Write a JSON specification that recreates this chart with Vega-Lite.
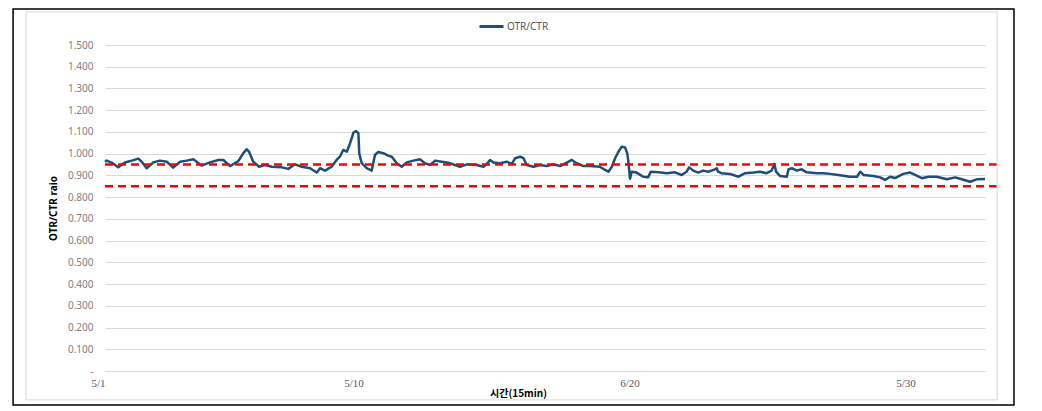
{
  "$schema": "https://vega.github.io/schema/vega-lite/v6.json",
  "width": 880,
  "height": 326,
  "autosize": "none",
  "padding": {"left": 105, "top": 45, "right": 57, "bottom": 40},
  "background": "white",
  "config": {
    "view": {"stroke": null},
    "font": "Noto Sans",
    "axisX": {
      "labelFlush": false, "labelOverlap": false, "grid": false, "ticks": false, "domain": true,
      "domainColor": "#d9d9d9", "domainWidth": 1, "labelPadding": 6, "labelFont": "Liberation Serif",
      "labelFontSize": 11, "labelColor": "#595959", "titleFont": "Noto Sans CJK KR", "titleFontSize": 10,
      "titleFontWeight": "bold", "titleColor": "#000000", "titleX": 413, "titleY": 22,
      "titleAlign": "center", "titleBaseline": "middle"
    },
    "axisY": {
      "labelOverlap": false, "domain": false, "ticks": false, "grid": true, "gridColor": "#d9d9d9",
      "gridWidth": 1, "labelPadding": 12, "labelColor": "#7f7f7f", "labelFontSize": 10,
      "titleFontSize": 10, "titleFontWeight": "bold", "titleColor": "#000000", "titleX": -52,
      "titleY": 163, "titleAngle": -90, "titleAlign": "center", "titleBaseline": "middle"
    }
  },
  "datasets": {
    "ratio": [
      {"day": 0.00, "ratio": 0.963}, {"day": 0.06, "ratio": 0.968}, {"day": 0.24, "ratio": 0.959}, {"day": 0.48, "ratio": 0.937},
      {"day": 0.72, "ratio": 0.959}, {"day": 0.97, "ratio": 0.968}, {"day": 1.21, "ratio": 0.977}, {"day": 1.33, "ratio": 0.963},
      {"day": 1.51, "ratio": 0.933}, {"day": 1.75, "ratio": 0.960}, {"day": 1.99, "ratio": 0.968}, {"day": 2.24, "ratio": 0.963},
      {"day": 2.47, "ratio": 0.936}, {"day": 2.72, "ratio": 0.963}, {"day": 2.96, "ratio": 0.968}, {"day": 3.20, "ratio": 0.974},
      {"day": 3.50, "ratio": 0.945}, {"day": 3.80, "ratio": 0.960}, {"day": 4.11, "ratio": 0.971}, {"day": 4.29, "ratio": 0.971},
      {"day": 4.53, "ratio": 0.943}, {"day": 4.83, "ratio": 0.966}, {"day": 5.01, "ratio": 1.002}, {"day": 5.13, "ratio": 1.020},
      {"day": 5.22, "ratio": 1.009}, {"day": 5.37, "ratio": 0.963}, {"day": 5.58, "ratio": 0.940}, {"day": 5.80, "ratio": 0.948},
      {"day": 6.04, "ratio": 0.940}, {"day": 6.40, "ratio": 0.937}, {"day": 6.64, "ratio": 0.930}, {"day": 6.88, "ratio": 0.951},
      {"day": 7.13, "ratio": 0.940}, {"day": 7.43, "ratio": 0.933}, {"day": 7.67, "ratio": 0.913}, {"day": 7.79, "ratio": 0.933},
      {"day": 7.97, "ratio": 0.922}, {"day": 8.21, "ratio": 0.940}, {"day": 8.39, "ratio": 0.971}, {"day": 8.51, "ratio": 0.986},
      {"day": 8.63, "ratio": 1.017}, {"day": 8.76, "ratio": 1.009}, {"day": 8.88, "ratio": 1.048}, {"day": 9.00, "ratio": 1.097},
      {"day": 9.09, "ratio": 1.104}, {"day": 9.18, "ratio": 1.094}, {"day": 9.21, "ratio": 1.002}, {"day": 9.30, "ratio": 0.956},
      {"day": 9.48, "ratio": 0.933}, {"day": 9.66, "ratio": 0.922}, {"day": 9.78, "ratio": 0.994}, {"day": 9.90, "ratio": 1.008},
      {"day": 10.08, "ratio": 1.002}, {"day": 10.26, "ratio": 0.991}, {"day": 10.39, "ratio": 0.986}, {"day": 10.57, "ratio": 0.956},
      {"day": 10.75, "ratio": 0.940}, {"day": 10.93, "ratio": 0.960}, {"day": 11.17, "ratio": 0.968}, {"day": 11.41, "ratio": 0.974},
      {"day": 11.59, "ratio": 0.956}, {"day": 11.78, "ratio": 0.948}, {"day": 11.96, "ratio": 0.968}, {"day": 12.20, "ratio": 0.963},
      {"day": 12.44, "ratio": 0.958}, {"day": 12.68, "ratio": 0.948}, {"day": 12.86, "ratio": 0.940}, {"day": 13.11, "ratio": 0.951},
      {"day": 13.47, "ratio": 0.948}, {"day": 13.71, "ratio": 0.940}, {"day": 13.83, "ratio": 0.953}, {"day": 13.95, "ratio": 0.971},
      {"day": 14.07, "ratio": 0.959}, {"day": 14.31, "ratio": 0.956}, {"day": 14.55, "ratio": 0.963}, {"day": 14.74, "ratio": 0.953},
      {"day": 14.86, "ratio": 0.979}, {"day": 15.04, "ratio": 0.986}, {"day": 15.16, "ratio": 0.979}, {"day": 15.28, "ratio": 0.948},
      {"day": 15.52, "ratio": 0.940}, {"day": 15.76, "ratio": 0.948}, {"day": 16.00, "ratio": 0.943}, {"day": 16.24, "ratio": 0.951},
      {"day": 16.49, "ratio": 0.943}, {"day": 16.73, "ratio": 0.959}, {"day": 16.91, "ratio": 0.971}, {"day": 17.09, "ratio": 0.956},
      {"day": 17.33, "ratio": 0.943}, {"day": 17.57, "ratio": 0.943}, {"day": 17.93, "ratio": 0.940}, {"day": 18.12, "ratio": 0.925},
      {"day": 18.24, "ratio": 0.917}, {"day": 18.36, "ratio": 0.940}, {"day": 18.48, "ratio": 0.979}, {"day": 18.60, "ratio": 1.009},
      {"day": 18.72, "ratio": 1.032}, {"day": 18.84, "ratio": 1.029}, {"day": 18.92, "ratio": 1.002}, {"day": 18.96, "ratio": 0.963},
      {"day": 19.02, "ratio": 0.885}, {"day": 19.08, "ratio": 0.917}, {"day": 19.26, "ratio": 0.913}, {"day": 19.50, "ratio": 0.894},
      {"day": 19.68, "ratio": 0.892}, {"day": 19.77, "ratio": 0.917}, {"day": 20.05, "ratio": 0.914}, {"day": 20.35, "ratio": 0.910},
      {"day": 20.65, "ratio": 0.914}, {"day": 20.89, "ratio": 0.902}, {"day": 21.07, "ratio": 0.917}, {"day": 21.16, "ratio": 0.937},
      {"day": 21.31, "ratio": 0.922}, {"day": 21.49, "ratio": 0.913}, {"day": 21.67, "ratio": 0.922}, {"day": 21.85, "ratio": 0.917},
      {"day": 22.10, "ratio": 0.928}, {"day": 22.16, "ratio": 0.933}, {"day": 22.21, "ratio": 0.917}, {"day": 22.34, "ratio": 0.910},
      {"day": 22.64, "ratio": 0.907}, {"day": 22.95, "ratio": 0.894}, {"day": 23.19, "ratio": 0.910}, {"day": 23.49, "ratio": 0.913},
      {"day": 23.73, "ratio": 0.917}, {"day": 23.97, "ratio": 0.910}, {"day": 24.15, "ratio": 0.922}, {"day": 24.25, "ratio": 0.953},
      {"day": 24.31, "ratio": 0.917}, {"day": 24.46, "ratio": 0.897}, {"day": 24.70, "ratio": 0.894}, {"day": 24.76, "ratio": 0.928},
      {"day": 24.88, "ratio": 0.933}, {"day": 25.06, "ratio": 0.922}, {"day": 25.24, "ratio": 0.928}, {"day": 25.42, "ratio": 0.914},
      {"day": 25.79, "ratio": 0.910}, {"day": 26.03, "ratio": 0.910}, {"day": 26.27, "ratio": 0.907}, {"day": 26.57, "ratio": 0.902},
      {"day": 26.99, "ratio": 0.894}, {"day": 27.24, "ratio": 0.894}, {"day": 27.36, "ratio": 0.917}, {"day": 27.48, "ratio": 0.902},
      {"day": 27.84, "ratio": 0.897}, {"day": 28.08, "ratio": 0.891}, {"day": 28.26, "ratio": 0.879}, {"day": 28.44, "ratio": 0.894},
      {"day": 28.62, "ratio": 0.888}, {"day": 28.92, "ratio": 0.907}, {"day": 29.17, "ratio": 0.913}, {"day": 29.35, "ratio": 0.902},
      {"day": 29.59, "ratio": 0.887}, {"day": 29.83, "ratio": 0.894}, {"day": 30.13, "ratio": 0.894}, {"day": 30.50, "ratio": 0.882},
      {"day": 30.80, "ratio": 0.891}, {"day": 31.04, "ratio": 0.882}, {"day": 31.34, "ratio": 0.871}, {"day": 31.58, "ratio": 0.882},
      {"day": 31.88, "ratio": 0.884}
    ],
    "limits": [{"limit": 0.95}, {"limit": 0.85}],
    "frame": [{"part": "frame"}]
  },
  "layer": [
    {
      "data": {"name": "frame"},
      "mark": {"type": "rect", "fill": null, "stroke": "#d9d9d9", "strokeWidth": 1, "clip": false},
      "encoding": {
        "x": {"datum": -2.86, "type": "quantitative", "axis": {
          "values": [0, 9, 19, 29],
          "labelExpr": "datum.value == 0 ? '5/1' : datum.value == 9 ? '5/10' : datum.value == 19 ? '6/20' : '5/30'",
          "labelAlign": {"condition": {"test": "datum.value == 0", "value": "right"}, "value": "center"},
          "title": "시간(15min)"}},
        "x2": {"datum": 32.32},
        "y": {"datum": 1.652, "type": "quantitative", "axis": {
          "values": [0, 0.1, 0.2, 0.3, 0.4, 0.5, 0.6, 0.7, 0.8, 0.9, 1.0, 1.1, 1.2, 1.3, 1.4, 1.5],
          "labelExpr": "datum.value == 0 ? '-' : format(datum.value, '.3f')",
          "title": "OTR/CTR raio"}},
        "y2": {"datum": -0.133}
      }
    },
    {
      "data": {"name": "frame"},
      "mark": {"type": "rect", "fill": null, "stroke": "#000000", "strokeWidth": 1.5, "clip": false},
      "encoding": {
        "x": {"datum": -3.33, "type": "quantitative", "axis": {
          "values": [0, 9, 19, 29],
          "labelExpr": "datum.value == 0 ? '5/1' : datum.value == 9 ? '5/10' : datum.value == 19 ? '6/20' : '5/30'",
          "labelAlign": {"condition": {"test": "datum.value == 0", "value": "right"}, "value": "center"},
          "title": "시간(15min)"}},
        "x2": {"datum": 32.93},
        "y": {"datum": 1.666, "type": "quantitative", "axis": {
          "values": [0, 0.1, 0.2, 0.3, 0.4, 0.5, 0.6, 0.7, 0.8, 0.9, 1.0, 1.1, 1.2, 1.3, 1.4, 1.5],
          "labelExpr": "datum.value == 0 ? '-' : format(datum.value, '.3f')",
          "title": "OTR/CTR raio"}},
        "y2": {"datum": -0.156}
      }
    },
    {
      "data": {"name": "ratio"},
      "mark": {"type": "line", "strokeWidth": 2.5, "strokeJoin": "round"},
      "encoding": {
        "x": {
          "field": "day", "type": "quantitative",
          "scale": {"domain": [0, 31.88], "nice": false, "zero": false},
          "axis": {
            "values": [0, 9, 19, 29],
            "labelExpr": "datum.value == 0 ? '5/1' : datum.value == 9 ? '5/10' : datum.value == 19 ? '6/20' : '5/30'",
            "labelAlign": {"condition": {"test": "datum.value == 0", "value": "right"}, "value": "center"},
            "title": "시간(15min)"
          }
        },
        "y": {
          "field": "ratio", "type": "quantitative",
          "scale": {"domain": [0, 1.5], "nice": false},
          "axis": {
            "values": [0, 0.1, 0.2, 0.3, 0.4, 0.5, 0.6, 0.7, 0.8, 0.9, 1.0, 1.1, 1.2, 1.3, 1.4, 1.5],
            "labelExpr": "datum.value == 0 ? '-' : format(datum.value, '.3f')",
            "title": "OTR/CTR raio"
          }
        },
        "color": {
          "datum": "OTR/CTR", "type": "nominal",
          "scale": {"range": ["#1f4e79"]},
          "legend": {
            "orient": "none",
            "legendX": 373,
            "legendY": -32,
            "direction": "horizontal",
            "title": null,
            "symbolType": "stroke",
            "symbolSize": 576,
            "symbolStrokeWidth": 3,
            "labelFontSize": 10,
            "labelColor": "#595959",
            "labelOffset": 2
          }
        }
      }
    },
    {
      "data": {"name": "limits"},
      "mark": {"type": "rule", "color": "#ff0000", "strokeWidth": 2.5, "strokeDash": [8, 5], "clip": false},
      "encoding": {
        "x": {"datum": 0, "type": "quantitative", "axis": {
          "values": [0, 9, 19, 29],
          "labelExpr": "datum.value == 0 ? '5/1' : datum.value == 9 ? '5/10' : datum.value == 19 ? '6/20' : '5/30'",
          "labelAlign": {"condition": {"test": "datum.value == 0", "value": "right"}, "value": "center"},
          "title": "시간(15min)"}},
        "x2": {"datum": 32.3},
        "y": {"field": "limit", "type": "quantitative", "axis": {
          "values": [0, 0.1, 0.2, 0.3, 0.4, 0.5, 0.6, 0.7, 0.8, 0.9, 1.0, 1.1, 1.2, 1.3, 1.4, 1.5],
          "labelExpr": "datum.value == 0 ? '-' : format(datum.value, '.3f')",
          "title": "OTR/CTR raio"}}
      }
    }
  ]
}
